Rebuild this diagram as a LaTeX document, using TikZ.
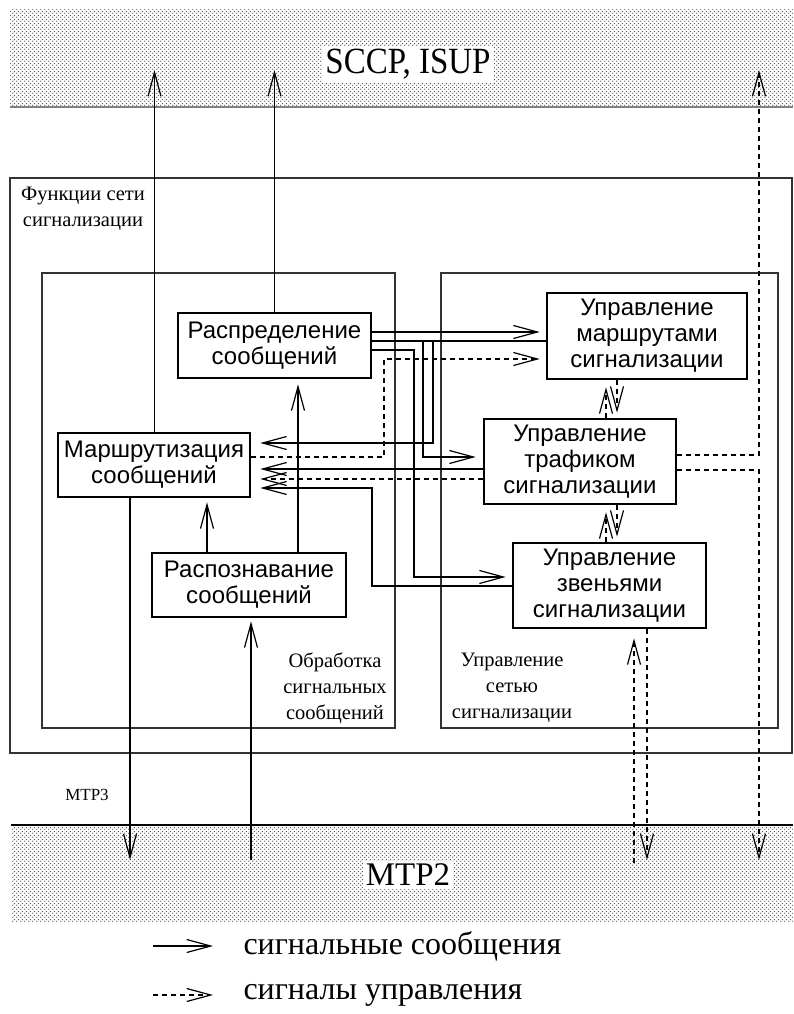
\documentclass[tikz,border=0pt]{standalone}
\usepackage{fontspec}
\usepackage{graphicx}
\setmainfont{Liberation Serif}
\newfontfamily\boxfont{Liberation Sans}
\usetikzlibrary{arrows.meta,patterns.meta}

% stipple used for the neighbouring protocol layers
\tikzdeclarepattern{
  name=stipple,
  type=uncolored,
  bottom left={(0pt,0pt)},
  top right={(4pt,4pt)},
  tile size={(4pt,4pt)},
  code={
    \pgfpathcircle{\pgfpoint{1pt}{1pt}}{0.85pt}
    \pgfpathcircle{\pgfpoint{3pt}{3pt}}{0.85pt}
    \pgfusepath{fill}
  }
}

\tikzset{
  func/.style={draw, line width=2.6pt, inner sep=0pt, align=center,
    font=\boxfont\fontsize{24}{26}\selectfont},
  frame/.style={draw=black!80, line width=1.3pt},
  layer/.style={pattern=stipple, pattern color=black!65},
  layerlabel/.style={fill=white, inner sep=3pt, font=\fontsize{33}{36}\selectfont},
  note/.style={align=center, font=\fontsize{20.5}{26}\selectfont},
  wire/.style={line width=1.2pt},
  sig/.style={wire, -{Straight Barb[length=24pt,width=13pt,line width=1.2pt]}},
  ctl/.style={sig, dash pattern=on 5pt off 4pt},
}

\begin{document}
\begin{tikzpicture}[x=1pt,y=-1pt]
\useasboundingbox (0,0) rectangle (793,1014);

% upper and lower neighbouring layers
\fill[layer] (10,10) rectangle (793,107);
\draw[black!50, line width=1.8pt] (10,107) -- (793,107);
\fill[layer] (11,826) rectangle (793,921);
\draw[line width=2.6pt] (11,825) -- (793,825);
\node[layerlabel] (upper) at (408,64) {\scalebox{1}[1.12]{SCCP, ISUP}};
\node[layerlabel] (lower) at (408,875) {MTP2};

% MTP3 frames
\draw[frame] (10,178) rectangle (792,753);
\draw[frame] (42,273) rectangle (395,728);
\draw[frame] (441,273) rectangle (778,728);
\node[note] (netf) at (83,209) {Функции сети\\сигнализации};
\node[note] (handling) at (335,688) {Обработка\\сигнальных\\сообщений};
\node[note] (mgmt) at (512,688) {Управление\\сетью\\сигнализации};
\node[font=\fontsize{17}{20}\selectfont] (mtp3) at (87,795) {MTP3};

% functional blocks
\node[func, minimum width=193pt, minimum height=65pt] (rasp) at (274.5,345.5) {Распределение\\сообщений};
\node[func, minimum width=192pt, minimum height=64pt] (mrsh) at (154,465) {Маршрутизация\\сообщений};
\node[func, minimum width=194pt, minimum height=64pt] (rzn) at (249,585) {Распознавание\\сообщений};
\node[func, minimum width=200pt, minimum height=86pt] (route) at (647,336) {Управление\\маршрутами\\сигнализации};
\node[func, minimum width=192pt, minimum height=85pt] (traffic) at (580,461.5) {Управление\\трафиком\\сигнализации};
\node[func, minimum width=193pt, minimum height=85pt] (links) at (609.5,585.5) {Управление\\звеньями\\сигнализации};

% ends of the connectors inside the neighbouring layers
\coordinate (upA) at (154.5,70);
\coordinate (upB) at (274.5,70);
\coordinate (upC) at (759,70);
\coordinate (dnA) at (130,860);
\coordinate (dnB) at (251,860);
\coordinate (dnC) at (634,863);
\coordinate (dnD) at (647,860);
\coordinate (dnE) at (759,860);

% message flow to and from the neighbouring layers
\draw[sig] (mrsh.north -| upA) -- (upA);
\draw[sig] (rasp.north) -- (upB);
\draw[sig] (mrsh.south -| dnA) -- (dnA);
\draw[sig, shorten >=3pt] (dnB) -- (dnB |- rzn.south);

% message handling
\draw[sig, shorten >=5pt] (rzn.north -| 298,0) -- (rasp.south -| 298,0);
\draw[sig, shorten >=4pt] (rzn.north -| 207,0) -- (mrsh.south -| 207,0);

% links between handling and network management
\draw[sig, shorten >=6pt] (rasp.east |- 0,332) -- (route.west |- 0,332);
\draw[wire] (rasp.east |- 0,341) -- (route.west |- 0,341);
\draw[sig, shorten >=9pt] (route.west |- 0,341) -| (433,443) -- (mrsh.east |- 0,443);
\draw[sig, shorten >=7pt] (rasp.east |- 0,341) -| (423,457) -- (traffic.west |- 0,457);
\draw[sig, shorten >=6pt] (rasp.east |- 0,350) -| (414,577) -- (links.west |- 0,577);
\draw[ctl, shorten >=6pt] (mrsh.east |- 0,457) -| (384,359) -- (route.west |- 0,359);
\draw[sig, shorten >=9pt] (traffic.west |- 0,469) -- (mrsh.east |- 0,469);
\draw[ctl, shorten >=9pt] (traffic.west |- 0,479) -- (mrsh.east |- 0,479);
\draw[sig, shorten >=9pt] (links.west |- 0,586) -| (372,488) -- (mrsh.east |- 0,488);

% control signals inside network management
\draw[ctl, shorten >=7pt] (traffic.north -| 606,0) -- (route.south -| 606,0);
\draw[ctl, shorten >=5pt] (route.south -| 617,0) -- (traffic.north -| 617,0);
\draw[ctl, shorten >=7pt] (links.north -| 606,0) -- (traffic.south -| 606,0);
\draw[ctl, shorten >=5pt] (traffic.south -| 617,0) -- (links.north -| 617,0);

% control signals to and from the neighbouring layers
\draw[ctl, shorten >=9pt] (dnC) -- (dnC |- links.south);
\draw[ctl] (links.south -| dnD) -- (dnD);
\draw[ctl] (traffic.east |- 0,455) -| (upC);
\draw[ctl] (traffic.east |- 0,470) -| (dnE);

% legend
\coordinate (lgA) at (153,946);
\coordinate (lgB) at (213,946);
\coordinate (lgC) at (153,995);
\coordinate (lgD) at (213,995);
\draw[sig] (lgA) -- (lgB);
\draw[ctl] (lgC) -- (lgD);
\node[anchor=west, font=\fontsize{32}{36}\selectfont] (lgsig) at (240,946) {сигнальные сообщения};
\node[anchor=west, font=\fontsize{32}{36}\selectfont] (lgctl) at (240,995) {сигналы управления};
\end{tikzpicture}
\end{document}
